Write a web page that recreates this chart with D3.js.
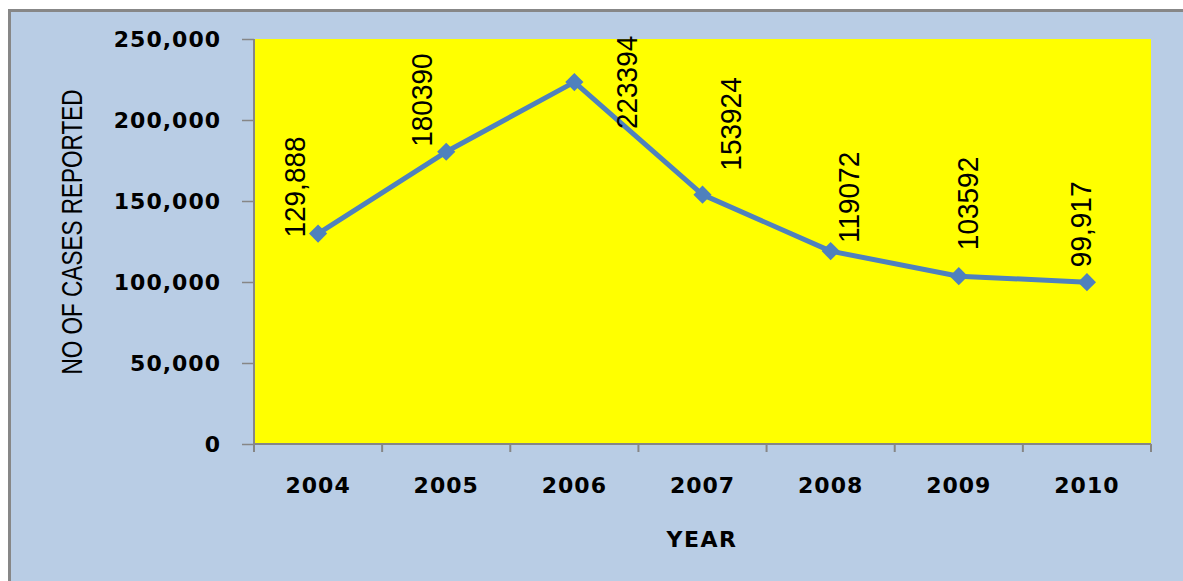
<!DOCTYPE html>
<html>
<head>
<meta charset="utf-8">
<script src="https://cdn.jsdelivr.net/npm/d3@7"></script>
<style>
  html, body { margin: 0; padding: 0; background: #ffffff; }
  svg { display: block; }
</style>
</head>
<body>
<svg id="chart" width="1183" height="581"></svg>
<script>
// ---- data ----
const years = ["2004", "2005", "2006", "2007", "2008", "2009", "2010"];
const cases = [129888, 180390, 223394, 153924, 119072, 103592, 99917];
const valueLabels = ["129,888", "180390", "223394", "153924", "119072", "103592", "99,917"];
const yTicks = [0, 50000, 100000, 150000, 200000, 250000];
const yTitle = "NO OF CASES REPORTED";
const xTitle = "YEAR";

// label placement relative to each point (baseline x offset, text-start y offset)
const labelOffsets = [[-13, 4], [-14, -5], [63, 47], [38, -24], [28, -8], [19, -26], [4, -15]];

// ---- layout ----
const svg = d3.select("#chart");
const plot = { left: 254, right: 1151, top: 39, bottom: 444 };

svg.append("rect")
  .attr("x", 9.5).attr("y", 10.5)
  .attr("width", 1200).attr("height", 600)
  .attr("fill", "#B9CDE5")
  .attr("stroke", "#878787").attr("stroke-width", 3);

const x = d3.scaleBand().domain(years).range([plot.left, plot.right]).padding(0);
const y = d3.scaleLinear().domain([0, 250000]).range([plot.bottom, plot.top]);

svg.append("rect")
  .attr("x", plot.left).attr("y", plot.top)
  .attr("width", plot.right - plot.left).attr("height", plot.bottom - plot.top)
  .attr("fill", "#FFFF00");

// y axis
const yAxis = svg.append("g")
  .attr("transform", `translate(${plot.left},0)`)
  .call(d3.axisLeft(y).tickValues(yTicks).tickSize(12).tickPadding(21)
        .tickFormat(d3.format(",")));
yAxis.select(".domain").remove();
yAxis.selectAll(".tick line").attr("stroke", "#868686").attr("stroke-width", 1.5);
yAxis.selectAll(".tick text")
  .attr("font-family", "DejaVu Sans").attr("font-weight", "bold")
  .attr("font-size", 22).attr("letter-spacing", 1).attr("fill", "#000");
svg.append("line")
  .attr("x1", plot.left).attr("x2", plot.left)
  .attr("y1", plot.top).attr("y2", plot.bottom + 8)
  .attr("stroke", "#868686").attr("stroke-width", 2);

// x axis
svg.append("line")
  .attr("x1", plot.left).attr("x2", plot.right)
  .attr("y1", plot.bottom).attr("y2", plot.bottom)
  .attr("stroke", "#868686").attr("stroke-width", 2);
const bounds = years.map(d => x(d)).concat([x(years[years.length - 1]) + x.bandwidth()]);
svg.selectAll(".xtick").data(bounds).enter().append("line")
  .attr("x1", d => d).attr("x2", d => d)
  .attr("y1", plot.bottom).attr("y2", plot.bottom + 8)
  .attr("stroke", "#868686").attr("stroke-width", 2);
svg.selectAll(".xlab").data(years).enter().append("text")
  .attr("x", d => x(d) + x.bandwidth() / 2)
  .attr("y", 485)
  .attr("dy", "0.36em")
  .attr("text-anchor", "middle")
  .attr("font-family", "DejaVu Sans").attr("font-weight", "bold")
  .attr("font-size", 22).attr("letter-spacing", 1).attr("fill", "#000")
  .text(d => d);

// titles
svg.append("text")
  .attr("transform", "translate(82,232) rotate(-90)")
  .attr("text-anchor", "middle")
  .attr("font-family", "Liberation Sans")
  .attr("font-size", 30)
  .attr("textLength", 285).attr("lengthAdjust", "spacingAndGlyphs")
  .attr("fill", "#000")
  .text(yTitle);
svg.append("text")
  .attr("x", 702).attr("y", 539).attr("dy", "0.36em")
  .attr("text-anchor", "middle")
  .attr("font-family", "DejaVu Sans").attr("font-weight", "bold")
  .attr("font-size", 22).attr("letter-spacing", 1.5).attr("fill", "#000")
  .text(xTitle);

// line
const pts = years.map((d, i) => [x(d) + x.bandwidth() / 2, y(cases[i])]);
svg.append("path")
  .attr("d", d3.line()(pts))
  .attr("fill", "none").attr("stroke", "#4F81BD").attr("stroke-width", 5)
  .attr("stroke-linejoin", "round");
svg.selectAll(".marker").data(pts).enter().append("path")
  .attr("d", d3.symbol(d3.symbolSquare, 165)())
  .attr("transform", d => `translate(${d[0]},${d[1]}) rotate(45)`)
  .attr("fill", "#4F81BD");

// value labels
svg.selectAll(".vlab").data(pts).enter().append("text")
  .attr("transform", (d, i) =>
    `translate(${d[0] + labelOffsets[i][0]},${d[1] + labelOffsets[i][1]}) rotate(-90) scale(1,1.08)`)
  .attr("text-anchor", "start")
  .attr("font-family", "Liberation Sans")
  .attr("font-size", 28).attr("fill", "#000")
  .text((d, i) => valueLabels[i]);
</script>
</body>
</html>
